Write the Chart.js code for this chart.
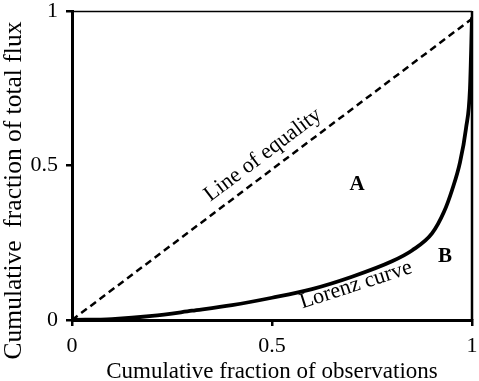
<!DOCTYPE html>
<html>
<head>
<meta charset="utf-8">
<script src="https://cdn.jsdelivr.net/npm/chart.js@4/dist/chart.umd.min.js"></script>
<style>
html,body{margin:0;padding:0;background:#fff;}
#wrap{width:479px;height:381px;}
</style>
</head>
<body>
<div id="wrap"><canvas id="c" width="479" height="381"></canvas></div>
<script>
const lorenzX = [0, 0.1, 0.2, 0.3, 0.4, 0.5, 0.6, 0.7, 0.8, 0.85, 0.9, 0.93, 0.95, 0.97, 0.985, 0.995, 1.0];
const lorenzY = [0, 0.003, 0.013, 0.03, 0.048, 0.072, 0.10, 0.14, 0.19, 0.225, 0.28, 0.35, 0.42, 0.51, 0.62, 0.75, 0.98];
const equalityX = [0, 1];
const equalityY = [0, 0.975];
const xTicks = [0, 0.5, 1];
const yTicks = [0, 0.5, 1];
const xTitle = 'Cumulative fraction of observations';
const yTitle = 'Cumulative  fraction of total flux';
const labelEquality = 'Line of equality';
const labelLorenz = 'Lorenz curve';
const labelA = 'A';
const labelB = 'B';

const SERIF = '"Liberation Serif", "Times New Roman", serif';

const annot = {
  id: 'annot',
  afterDatasetsDraw(chart) {
    const {ctx, chartArea: a, scales: {x, y}} = chart;
    ctx.save();
    // top and right frame
    ctx.strokeStyle = '#000';
    ctx.lineWidth = 1.5;
    ctx.beginPath();
    ctx.moveTo(a.left, a.top + 0.5);
    ctx.lineTo(a.right, a.top + 0.5);
    ctx.stroke();
    ctx.lineWidth = 2.5;
    ctx.beginPath();
    ctx.moveTo(a.right, a.top);
    ctx.lineTo(a.right, a.bottom);
    ctx.stroke();

    ctx.fillStyle = '#000';
    ctx.textAlign = 'center';
    ctx.textBaseline = 'middle';
    const txt = (s, vx, vy, ang, font) => {
      ctx.save();
      ctx.translate(x.getPixelForValue(vx), y.getPixelForValue(vy));
      ctx.rotate(ang * Math.PI / 180);
      ctx.font = font;
      ctx.fillText(s, 0, 0);
      ctx.restore();
    };
    txt(labelEquality, 0.4775, 0.534, -37, '22px ' + SERIF);
    txt(labelLorenz, 0.71, 0.113, -18, '22px ' + SERIF);
    txt(labelA, 0.7125, 0.437, 0, 'bold 21px ' + SERIF);
    txt(labelB, 0.9325, 0.204, 0, 'bold 21px ' + SERIF);

    // y axis title, centred on the canvas height
    ctx.save();
    ctx.translate(14, chart.height / 2);
    ctx.rotate(-Math.PI / 2);
    ctx.font = '25.5px ' + SERIF;
    ctx.fillText(yTitle, 0, 0);
    ctx.restore();
    ctx.restore();
  }
};

new Chart(document.getElementById('c'), {
  type: 'scatter',
  data: {
    datasets: [
      {
        data: equalityX.map((v, i) => ({x: v, y: equalityY[i]})),
        showLine: true, borderColor: '#000', borderWidth: 2.5, borderDash: [7, 4.5],
        pointRadius: 0, fill: false
      },
      {
        data: lorenzX.map((v, i) => ({x: v, y: lorenzY[i]})),
        showLine: true, borderColor: '#000', borderWidth: 3.8,
        cubicInterpolationMode: 'monotone',
        pointRadius: 0, fill: false
      }
    ]
  },
  plugins: [annot],
  options: {
    responsive: false,
    animation: false,
    layout: {padding: {top: 11, right: 7, left: 0, bottom: 0}},
    plugins: {legend: {display: false}, tooltip: {enabled: false}},
    scales: {
      x: {
        type: 'linear', min: 0, max: 1,
        afterBuildTicks: s => { s.ticks = xTicks.map(v => ({value: v})); },
        afterFit: s => { s.height = 61; s.paddingLeft = 0; s.paddingRight = 0; },
        grid: {display: true, drawOnChartArea: false, drawTicks: true, tickLength: 6, color: '#000', lineWidth: 2.5},
        border: {display: true, color: '#000', width: 3},
        ticks: {color: '#000', font: {family: SERIF, size: 22}, padding: 7, maxRotation: 0,
          callback: v => String(v)},
        title: {display: true, text: xTitle, color: '#000', font: {family: SERIF, size: 23, lineHeight: 0.8}, padding: {top: 0, bottom: 0}}
      },
      y: {
        type: 'linear', min: 0, max: 1,
        afterBuildTicks: s => { s.ticks = yTicks.map(v => ({value: v})); },
        afterFit: s => { s.width = 72; s.paddingTop = 0; s.paddingBottom = 0; },
        grid: {display: true, drawOnChartArea: false, drawTicks: true, tickLength: 6, color: '#000', lineWidth: 2.5},
        border: {display: true, color: '#000', width: 3},
        ticks: {color: '#000', font: {family: SERIF, size: 22}, padding: 8,
          callback: v => String(v)},
        title: {display: false}
      }
    }
  }
});
</script>
</body>
</html>
